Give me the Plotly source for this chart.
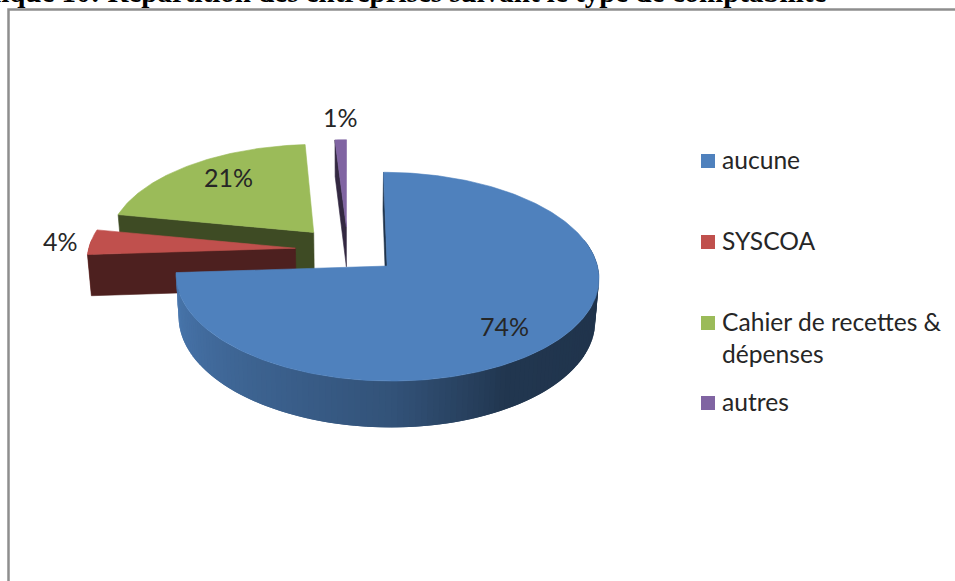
import numpy as np
import plotly.graph_objects as go

# data
categories = ["aucune", "SYSCOA", "Cahier de recettes &<br>dépenses", "autres"]
values = [74, 4, 21, 1]
colors = ["#4F81BD", "#C0504D", "#9BBB59", "#8064A2"]
title_text = "Graphique 10: Répartition des entreprises suivant le type de comptabilité"

# pixel positions of the labels and legend rows
label_xy = [(504, 326), (60, 241), (228, 177), (340, 117)]
legend_y = [161, 242, 323, 403]

# projection of the exploded 3D pie
XV, YV = 348, 249.7
RX, RY = 207, 100
PERSP = 0.1
DEPTH = 41
EXPLODE_X, EXPLODE_Y = 0.255, 0.235
WALL_SHADE = 0.4
TEXT_COLOR = "#262626"
FONT = "Lato"


def project(X, Y, z):
    s = 1 / (1 - PERSP * Y)
    return XV + RX * X * s * (1 - 0.015 * z), YV + RY * Y * s + DEPTH * s * z


def shade(color, f):
    r, g, b = [int(color[i:i + 2], 16) for i in (1, 3, 5)]
    return f"rgb({r * f:.0f},{g * f:.0f},{b * f:.0f})"


def polygon(points, color, width=0.6):
    xs = [p[0] for p in points] + [points[0][0]]
    ys = [p[1] for p in points] + [points[0][1]]
    return go.Scatter(x=xs, y=ys, mode="lines", fill="toself", fillcolor=color,
                      line=dict(color=color, width=width), hoverinfo="skip", showlegend=False)


fig = go.Figure()

# slice angles, clockwise from the back
edges = np.cumsum([0] + values) / sum(values) * 360.0


def add_slice(i):
    a0, a1 = edges[i], edges[i + 1]
    mid = np.radians((a0 + a1) / 2)
    ox, oy = EXPLODE_X * np.sin(mid), -EXPLODE_Y * np.cos(mid)

    def rim(a, z):
        t = np.radians(a)
        return project(ox + np.sin(t), oy - np.cos(t), z)

    # outer wall, only the part turned to the viewer; strips overlap to hide seams
    lo, hi = max(a0, 75), min(a1, 275)
    if hi > lo:
        steps = np.arange(lo, hi, 1.5)
        for p in steps:
            q = min(p + 3, hi)
            f = np.interp(p + 0.75, [90, 150, 180, 266], [0.39, 0.42, 0.64, 0.93])
            strip = [rim(a, 0) for a in (p, (p + q) / 2, q)] + [rim(a, 1) for a in (q, (p + q) / 2, p)]
            fig.add_trace(polygon(strip, shade(colors[i], f), width=0))

    # cut wall
    apex_top, apex_bot = project(ox, oy, 0), project(ox, oy, 1)
    fig.add_trace(polygon([apex_top, rim(a0, 0), rim(a0, 1), apex_bot], shade(colors[i], WALL_SHADE)))

    # top face
    arc = [rim(a, 0) for a in np.linspace(a0, a1, int(a1 - a0) + 2)]
    fig.add_trace(polygon([apex_top] + arc, colors[i]))


# back slices first, the big one stays on top
for i in [2, 3, 1, 0]:
    add_slice(i)

# legend squares
fig.add_trace(go.Scatter(x=[708] * len(categories), y=legend_y, mode="markers",
                         marker=dict(symbol="square", size=14, color=colors),
                         hoverinfo="skip", showlegend=False))

annotations = []
for v, (x, y) in zip(values, label_xy):
    annotations.append(dict(x=x, y=y, text=f"{v}%", showarrow=False,
                            font=dict(family=FONT, size=25, color=TEXT_COLOR)))
for name, y in zip(categories, legend_y):
    annotations.append(dict(x=720, y=y - 18, text=name, showarrow=False, xanchor="left",
                            yanchor="top", align="left",
                            font=dict(family=FONT, size=24.6, color=TEXT_COLOR)))
annotations.append(dict(x=828, y=10, text=f"<b>{title_text}</b>", showarrow=False,
                        xanchor="right", yanchor="bottom",
                        font=dict(family="Liberation Serif", size=29, color="black")))

fig.update_layout(
    width=955, height=581,
    margin=dict(l=0, r=0, t=0, b=0),
    paper_bgcolor="white", plot_bgcolor="white",
    xaxis=dict(range=[0, 955], visible=False),
    yaxis=dict(range=[581, 0], visible=False),
    annotations=annotations,
    shapes=[dict(type="path", path="M 8.5 581 L 8.5 9.5 L 955 9.5",
                 line=dict(color="#8e8e8e", width=2.5))],
)

fig.write_html("out.html", config={"displayModeBar": False},
               post_script="document.body.style.margin='0';document.body.style.overflow='hidden';")
